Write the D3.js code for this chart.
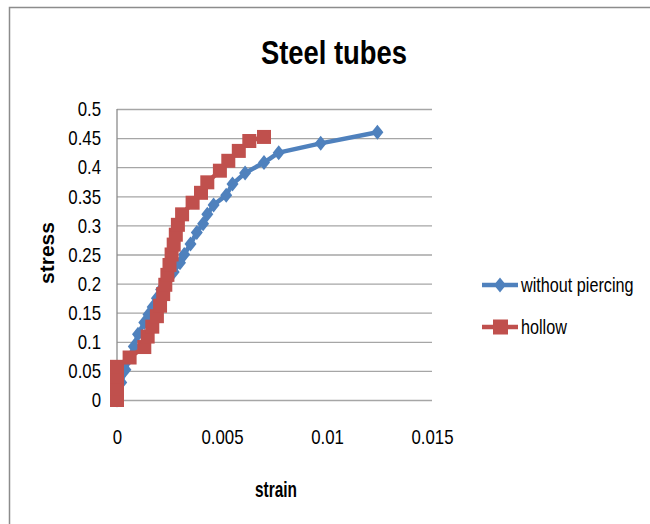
<!DOCTYPE html>
<html>
<head>
<meta charset="utf-8">
<script src="https://cdn.jsdelivr.net/npm/d3@7"></script>
<style>
  html, body { margin: 0; padding: 0; background: #fff; }
  svg { display: block; }
  text { font-family: "Liberation Sans", Arial, sans-serif; fill: #000; }
</style>
</head>
<body>
<svg id="chart" width="650" height="524"></svg>
<script>
const title = "Steel tubes";
const xTitle = "strain";
const yTitle = "stress";
const seriesNames = ["without piercing", "hollow"];
const xTicks = [0, 0.005, 0.01, 0.015];
const xTickLabels = ["0", "0.005", "0.01", "0.015"];
const yTicks = [0, 0.05, 0.1, 0.15, 0.2, 0.25, 0.3, 0.35, 0.4, 0.45, 0.5];
const yTickLabels = ["0", "0.05", "0.1", "0.15", "0.2", "0.25", "0.3", "0.35", "0.4", "0.45", "0.5"];

// without piercing: [strain, stress]
const withoutPiercing = [
  [0, 0], [0.0002, 0.03], [0.0004, 0.052], [0.0006, 0.072], [0.0008, 0.092],
  [0.001, 0.113], [0.0013, 0.133], [0.0015, 0.147], [0.0017, 0.16], [0.0019, 0.175],
  [0.0021, 0.19], [0.0024, 0.205], [0.0027, 0.22], [0.003, 0.236], [0.0032, 0.25],
  [0.0035, 0.268], [0.0038, 0.288], [0.0041, 0.303], [0.0043, 0.319], [0.0046, 0.335],
  [0.0052, 0.352], [0.0055, 0.371], [0.0061, 0.39], [0.007, 0.408], [0.0077, 0.425],
  [0.0097, 0.441], [0.0124, 0.46]
];
// hollow: [strain, stress]
const hollow = [
  [0, 0], [0, 0.02], [0, 0.04], [0, 0.057], [0.0006, 0.073], [0.0013, 0.091],
  [0.00146, 0.109], [0.00168, 0.126], [0.0019, 0.144], [0.00205, 0.162], [0.0022, 0.182],
  [0.0023, 0.198], [0.0024, 0.215], [0.0025, 0.232], [0.0026, 0.25], [0.0027, 0.267],
  [0.0028, 0.284], [0.0029, 0.301], [0.0031, 0.319], [0.0036, 0.339], [0.004, 0.356],
  [0.0043, 0.374], [0.0049, 0.394], [0.0053, 0.411], [0.0058, 0.428], [0.0063, 0.445],
  [0.007, 0.452]
];
const colors = ["#4F81BD", "#C0504D"];

// narrow the glyphs horizontally (reference text is tall and condensed)
function squeeze(sel, f) {
  sel.each(function () {
    const w = this.getComputedTextLength();
    d3.select(this).attr("textLength", w * f).attr("lengthAdjust", "spacingAndGlyphs");
  });
}

const svg = d3.select("#chart");
svg.append("rect").attr("width", 650).attr("height", 524).attr("fill", "#fff");
// chart area border
svg.append("rect").attr("x", 9.5).attr("y", 7.5).attr("width", 700).attr("height", 600)
  .attr("fill", "none").attr("stroke", "#8c8c8c").attr("stroke-width", 1.5);

const pLeft = 117, pRight = 432, pTop = 109, pBottom = 400;
const x = d3.scaleLinear().domain([0, 0.015]).range([pLeft, pRight]);
const y = d3.scaleLinear().domain([0, 0.5]).range([pBottom, pTop]);

// y axis with gridlines
const yAxis = svg.append("g").attr("transform", `translate(${pLeft},0)`)
  .call(d3.axisLeft(y).tickValues(yTicks).tickSize(-(pRight - pLeft)).tickPadding(16)
    .tickFormat((d, i) => yTickLabels[i]));
yAxis.select(".domain").remove();
yAxis.selectAll(".tick line").attr("stroke", "#a6a6a6").attr("stroke-width", 1.3);
yAxis.selectAll(".tick text").attr("font-size", 21).attr("font-family", null).attr("fill", "#000")
  .call(squeeze, 0.8);
svg.append("line").attr("x1", pLeft).attr("x2", pLeft).attr("y1", pTop).attr("y2", pBottom)
  .attr("stroke", "#8c8c8c").attr("stroke-width", 1.3);

// x axis labels
const xAxis = svg.append("g").attr("transform", `translate(0,${pBottom})`)
  .call(d3.axisBottom(x).tickValues(xTicks).tickSize(0).tickPadding(29)
    .tickFormat((d, i) => xTickLabels[i]));
xAxis.select(".domain").remove();
xAxis.selectAll(".tick text").attr("font-size", 21).attr("font-family", null).attr("fill", "#000")
  .call(squeeze, 0.8);

// titles
svg.append("text").attr("x", 334).attr("y", 64).attr("text-anchor", "middle")
  .attr("font-size", 33).attr("font-weight", "bold").text(title).call(squeeze, 0.83);
svg.append("text").attr("x", 276).attr("y", 497).attr("text-anchor", "middle")
  .attr("font-size", 22).attr("font-weight", "bold").text(xTitle).call(squeeze, 0.7);
svg.append("text").attr("transform", "translate(54,253) rotate(-90)").attr("text-anchor", "middle")
  .attr("font-size", 21).attr("font-weight", "bold").text(yTitle);

const line = d3.line().x(d => x(d[0])).y(d => y(d[1]));
const diamond = (cx, cy, w, h) => `M${cx},${cy - h / 2}L${cx + w / 2},${cy}L${cx},${cy + h / 2}L${cx - w / 2},${cy}Z`;

// series 1
svg.append("path").datum(withoutPiercing).attr("d", line).attr("fill", "none")
  .attr("stroke", colors[0]).attr("stroke-width", 4.5).attr("stroke-linejoin", "round");
svg.append("g").selectAll("path").data(withoutPiercing).join("path")
  .attr("d", d => diamond(x(d[0]), y(d[1]), 12, 15)).attr("fill", colors[0]);

// series 2
svg.append("path").datum(hollow).attr("d", line).attr("fill", "none")
  .attr("stroke", colors[1]).attr("stroke-width", 4.5).attr("stroke-linejoin", "round");
svg.append("g").selectAll("rect").data(hollow).join("rect")
  .attr("x", d => x(d[0]) - 7).attr("y", d => y(d[1]) - 7)
  .attr("width", 14).attr("height", 14).attr("fill", colors[1]);

// legend
const lg = svg.append("g");
const legY = [285, 327];
seriesNames.forEach((name, i) => {
  lg.append("line").attr("x1", 482).attr("x2", 518).attr("y1", legY[i]).attr("y2", legY[i])
    .attr("stroke", colors[i]).attr("stroke-width", 4.5);
  if (i === 0) {
    lg.append("path").attr("d", diamond(500, legY[i], 12, 15)).attr("fill", colors[i]);
  } else {
    lg.append("rect").attr("x", 493).attr("y", legY[i] - 7.5).attr("width", 15).attr("height", 15).attr("fill", colors[i]);
  }
  lg.append("text").attr("transform", `translate(521,${legY[i]}) scale(0.81,1)`).attr("dy", "0.36em")
    .attr("font-size", 20).text(name);
});
</script>
</body>
</html>
